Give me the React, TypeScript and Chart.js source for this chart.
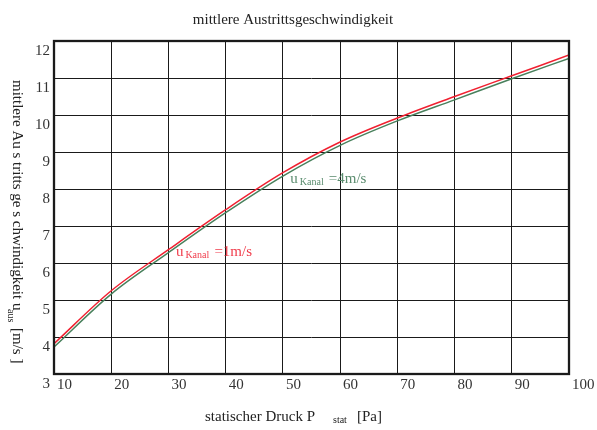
import React, { useEffect, useRef } from "react";
import { Chart, registerables } from "chart.js";

Chart.register(...registerables);

// ---- data ----
const pressure = [10, 20, 30, 40, 50, 60, 70, 80, 90, 100];
const uKanal1 = [3.82, 5.25, 6.36, 7.44, 8.44, 9.27, 9.92, 10.5, 11.06, 11.62];
const uKanal4 = [3.73, 5.16, 6.28, 7.36, 8.35, 9.18, 9.84, 10.41, 10.98, 11.53];
const xTickValues = [10, 20, 30, 40, 50, 60, 70, 80, 90, 100];
const yTickValues = [3, 4, 5, 6, 7, 8, 9, 10, 11, 12];

const chartTitle = "mittlere Austrittsgeschwindigkeit";
const yTitleMain = "mittlere Au s tritts ge s chwindigkeit u";
const yTitleSub = "aus";
const yTitleUnit = "[m/s ]";
const xTitleMain = "statischer Druck P";
const xTitleSub = "stat";
const xTitleUnit = "[Pa]";
const label1 = { sub: "Kanal", rest: "=1m/s" };
const label4 = { sub: "Kanal", rest: "=4m/s" };

const FONT = "'Liberation Serif', 'Times New Roman', 'DejaVu Serif', serif";
const RED = "rgb(240,32,48)";
const GREEN = "rgb(72,128,92)";

const decorations = {
  id: "decorations",
  afterDraw(chart: any) {
    const { ctx, chartArea: a, scales } = chart;
    const xs = scales.x;
    const ys = scales.y;
    ctx.save();
    // frame
    ctx.strokeStyle = "#1a1a1a";
    ctx.lineWidth = 2.3;
    ctx.strokeRect(a.left, a.top, a.right - a.left, a.bottom - a.top);

    ctx.textBaseline = "alphabetic";
    ctx.textAlign = "left";
    // title
    ctx.fillStyle = "#222";
    ctx.font = `15px ${FONT}`;
    ctx.textAlign = "center";
    ctx.fillText(chartTitle, 293, 24);
    ctx.textAlign = "left";

    // x title
    ctx.fillStyle = "#222";
    ctx.font = `15px ${FONT}`;
    ctx.fillText(xTitleMain, 205, 421);
    ctx.font = `10px ${FONT}`;
    ctx.fillText(xTitleSub, 333, 423);
    ctx.font = `15px ${FONT}`;
    ctx.fillText(xTitleUnit, 357, 421);

    // y title (rotated, reading top to bottom)
    ctx.save();
    ctx.translate(13, 0);
    ctx.rotate(Math.PI / 2);
    ctx.font = `15px ${FONT}`;
    ctx.fillText(yTitleMain, 80, 0);
    ctx.font = `10px ${FONT}`;
    ctx.fillText(yTitleSub, 309, 5);
    ctx.font = `15px ${FONT}`;
    ctx.fillText(yTitleUnit, 328, 0);
    ctx.restore();

    // curve labels
    const drawLabel = (lbl: any, px: number, py: number, color: string) => {
      const x0 = xs.getPixelForValue(px);
      const b = ys.getPixelForValue(py);
      ctx.fillStyle = color;
      ctx.font = `15px ${FONT}`;
      ctx.fillText("u", x0, b);
      ctx.font = `10px ${FONT}`;
      ctx.fillText(lbl.sub, x0 + 9.5, b + 2.3);
      ctx.font = `15px ${FONT}`;
      ctx.fillText(lbl.rest, x0 + 38.5, b);
    };
    drawLabel(label1, 31.3, 6.2, "rgb(240,60,75)");
    drawLabel(label4, 51.3, 8.17, "rgb(90,140,110)");
    ctx.restore();
  },
};

export default function App() {
  const ref = useRef<HTMLCanvasElement | null>(null);
  useEffect(() => {
    if (!ref.current) return;
    const tickFont = { family: FONT, size: 15 };
    const chart = new Chart(ref.current, {
      type: "line",
      data: {
        labels: pressure,
        datasets: [
          {
            label: "uKanal=1m/s",
            data: pressure.map((p, i) => ({ x: p, y: uKanal1[i] })),
            borderColor: RED,
            borderWidth: 1.5,
            pointRadius: 0,
            cubicInterpolationMode: "monotone",
            fill: false,
          },
          {
            label: "uKanal=4m/s",
            data: pressure.map((p, i) => ({ x: p, y: uKanal4[i] })),
            borderColor: GREEN,
            borderWidth: 1.5,
            pointRadius: 0,
            cubicInterpolationMode: "monotone",
            fill: false,
          },
        ],
      },
      options: {
        responsive: false,
        animation: false,
        devicePixelRatio: 1,
        layout: { padding: { left: 0, top: 41, right: 28, bottom: 0 } },
        plugins: {
          legend: { display: false },
          title: { display: false },
          tooltip: { enabled: false },
        },
        scales: {
          x: {
            type: "linear",
            min: 10,
            max: 100,
            afterBuildTicks: (s: any) => {
              s.ticks = xTickValues.map((v) => ({ value: v }));
            },
            afterFit: (s: any) => {
              s.height = 56;
            },
            grid: { color: "#1a1a1a", lineWidth: 1, drawTicks: false },
            border: { display: false },
            ticks: {
              align: "start",
              padding: 2,
              labelOffset: 3,
              autoSkip: false,
              maxRotation: 0,
              color: "#333",
              font: tickFont,
            },
          },
          y: {
            type: "linear",
            min: 3,
            max: 12,
            afterBuildTicks: (s: any) => {
              s.ticks = yTickValues.map((v) => ({ value: v }));
            },
            afterFit: (s: any) => {
              s.width = 54;
            },
            grid: { color: "#1a1a1a", lineWidth: 1, drawTicks: false },
            border: { display: false },
            ticks: {
              padding: 4,
              labelOffset: 10,
              autoSkip: false,
              color: "#333",
              font: tickFont,
            },
          },
        },
      },
      plugins: [decorations],
    } as any);
    return () => chart.destroy();
  }, []);
  return (
    <div style={{ position: "fixed", left: 0, top: 0, width: 597, height: 430, background: "#fff" }}>
      <canvas ref={ref} width={597} height={430} style={{ width: 597, height: 430, display: "block" }} />
    </div>
  );
}
